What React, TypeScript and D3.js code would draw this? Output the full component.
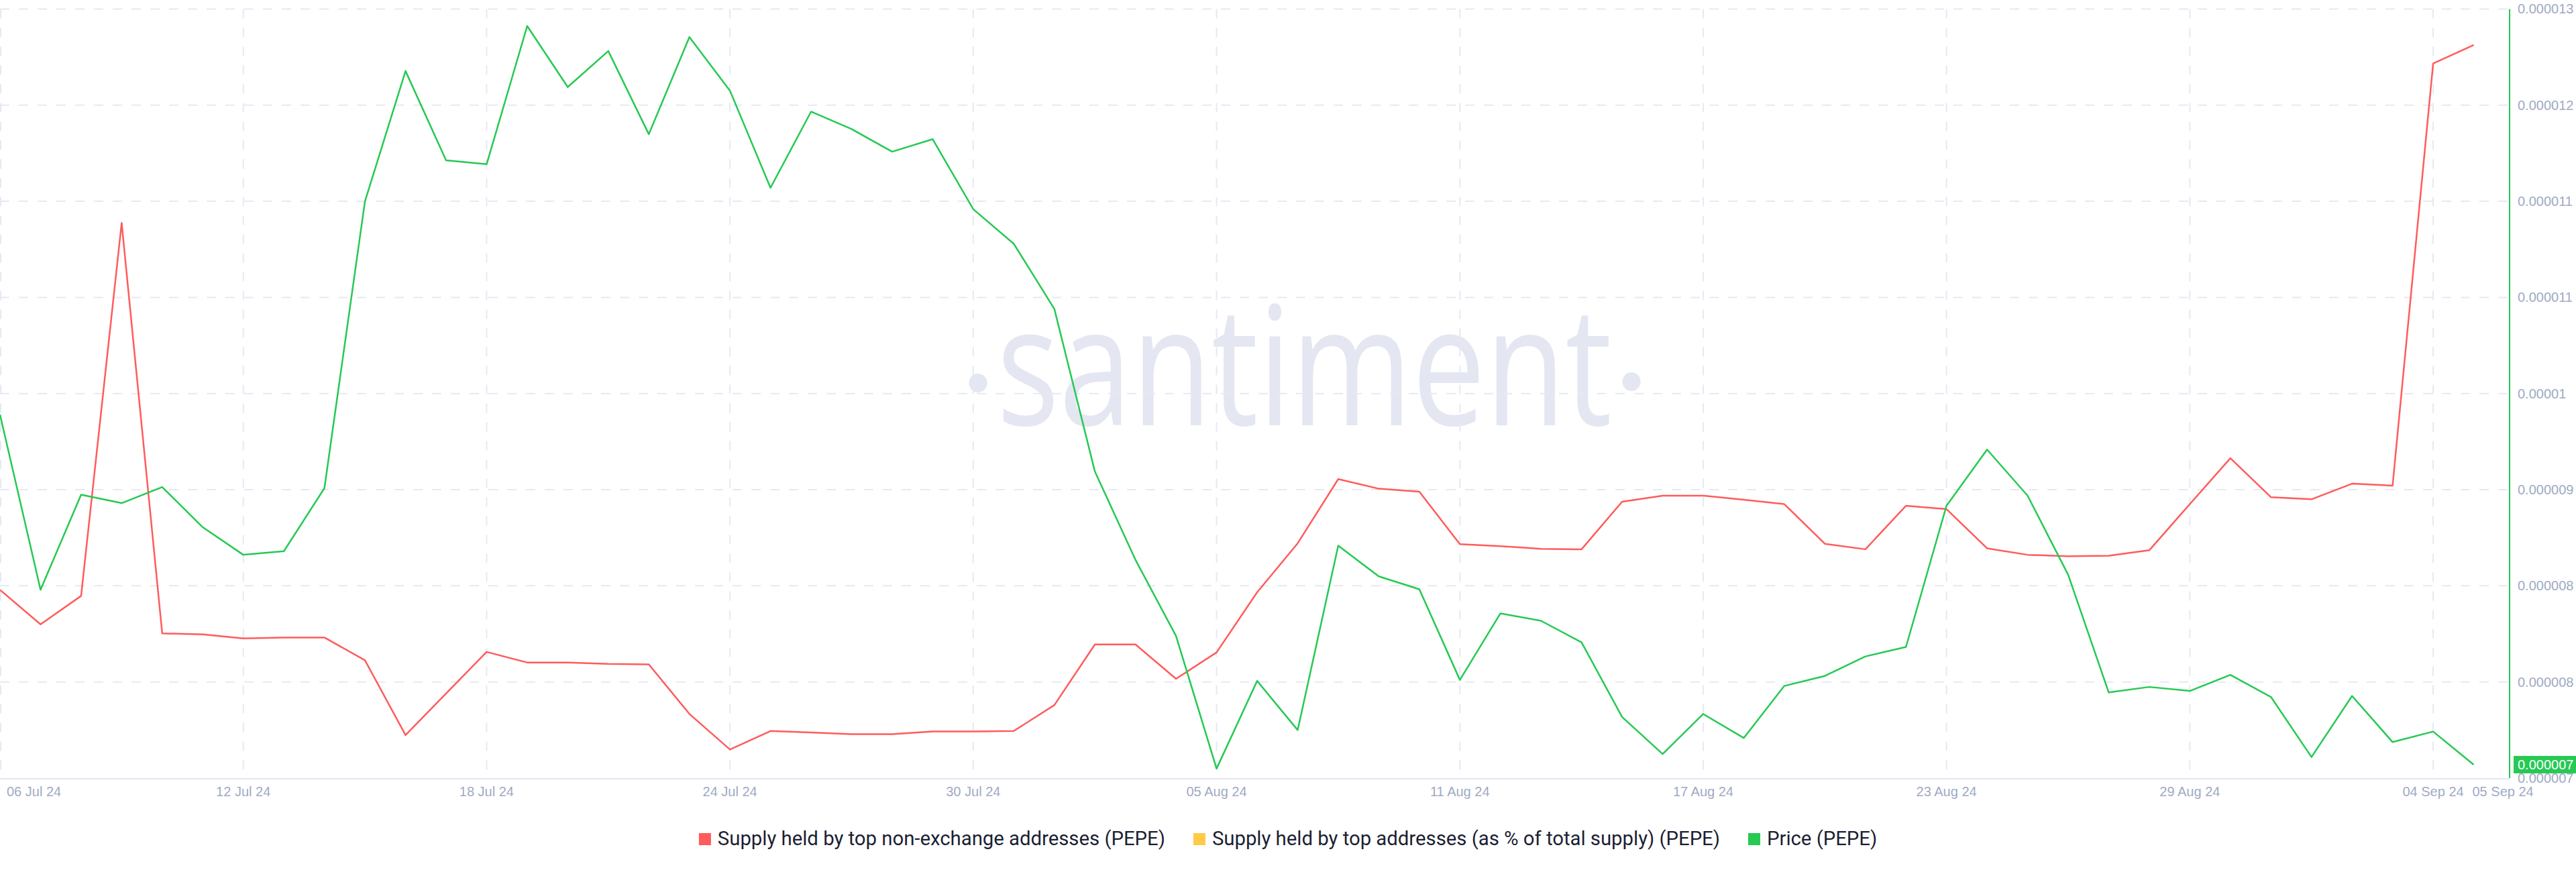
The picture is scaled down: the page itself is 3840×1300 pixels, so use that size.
import React, { useEffect, useRef } from "react";
import * as d3 from "d3";

const START_DATE = "2024-07-06";
const END_DATE = "2024-09-05";

// Price (PEPE), USD, one value per day 06 Jul 24 .. 05 Sep 24
const priceValues = [
  9.836e-6, 8.469e-6, 9.211e-6, 9.145e-6, 9.27e-6, 8.957e-6, 8.742e-6, 8.77e-6, 9.262e-6, 11.5e-6,
  12.516e-6, 11.82e-6, 11.789e-6, 12.867e-6, 12.391e-6, 12.672e-6, 12.023e-6, 12.781e-6, 12.363e-6, 11.605e-6,
  12.199e-6, 12.063e-6, 11.887e-6, 11.984e-6, 11.438e-6, 11.168e-6, 10.66e-6, 9.391e-6, 8.703e-6, 8.109e-6,
  7.074e-6, 7.758e-6, 7.375e-6, 8.813e-6, 8.574e-6, 8.473e-6, 7.766e-6, 8.285e-6, 8.227e-6, 8.059e-6,
  7.477e-6, 7.188e-6, 7.5e-6, 7.313e-6, 7.719e-6, 7.797e-6, 7.949e-6, 8.023e-6, 9.125e-6, 9.563e-6,
  9.203e-6, 8.586e-6, 7.668e-6, 7.711e-6, 7.68e-6, 7.805e-6, 7.633e-6, 7.164e-6, 7.641e-6, 7.281e-6,
  7.363e-6, 7.105e-6,
];

// Supply held by top non-exchange addresses (PEPE), trillions (hidden axis)
const supplyValues = [
  187.83, 186.4, 187.58, 203.1, 186.02, 185.98, 185.81, 185.85, 185.85, 184.9,
  181.79, 183.52, 185.25, 184.81, 184.81, 184.75, 184.73, 182.67, 181.19, 181.96,
  181.9, 181.83, 181.83, 181.94, 181.94, 181.96, 183.04, 185.56, 185.56, 184.13,
  185.23, 187.73, 189.77, 192.44, 192.04, 191.92, 189.73, 189.65, 189.54, 189.52,
  191.5, 191.75, 191.75, 191.58, 191.4, 189.75, 189.52, 191.33, 191.19, 189.56,
  189.29, 189.23, 189.25, 189.48, 191.4, 193.31, 191.69, 191.6, 192.25, 192.17,
  209.73, 210.5,
];

const xTickDates = [
  "2024-07-06", "2024-07-12", "2024-07-18", "2024-07-24", "2024-07-30", "2024-08-05",
  "2024-08-11", "2024-08-17", "2024-08-23", "2024-08-29", "2024-09-04", "2024-09-05",
];
const xTickLabels = [
  "06 Jul 24", "12 Jul 24", "18 Jul 24", "24 Jul 24", "30 Jul 24", "05 Aug 24",
  "11 Aug 24", "17 Aug 24", "23 Aug 24", "29 Aug 24", "04 Sep 24", "05 Sep 24",
];

const priceTickValues = [7e-6, 7.75e-6, 8.5e-6, 9.25e-6, 10e-6, 10.75e-6, 11.5e-6, 12.25e-6, 13e-6];
const priceTickLabels = [
  "0.000007", "0.000008", "0.000008", "0.000009", "0.00001", "0.000011", "0.000011", "0.000012", "0.000013",
];

const legendNames = [
  "Supply held by top non-exchange addresses (PEPE)",
  "Supply held by top addresses (as % of total supply) (PEPE)",
  "Price (PEPE)",
];
const legendColors = ["#ff5b5b", "#ffcb47", "#26c953"];

const W = 3840;
const H = 1300;
const FONT = "'Liberation Sans', Arial, sans-serif";
const LEGEND_FONT = "Roboto, 'Liberation Sans', Arial, sans-serif";

export default function App() {
  const ref = useRef<SVGSVGElement>(null);

  useEffect(() => {
    const svg = d3.select(ref.current);
    svg.selectAll("*").remove();

    const parse = d3.utcParse("%Y-%m-%d");
    const dates = d3.utcDay.range(parse(START_DATE)!, d3.utcDay.offset(parse(END_DATE)!, 1));

    const top = 13.4;
    const bottom = 1160;
    const axisX = 3741;

    const x = d3.scaleUtc().domain([dates[0], dates[dates.length - 1]]).range([0, 3687.5]);
    const yPrice = d3.scaleLinear().domain([7e-6, 13e-6]).range([bottom, top]);
    const ySupply = d3.scaleLinear().domain([180, 212]).range([bottom, top]);

    const gridColor = "#e6e9f3";

    // watermark
    const wm = svg.append("g").attr("fill", "#e4e7f1");
    wm.append("text")
      .attr("x", 1486)
      .attr("y", 634)
      .attr("font-family", "'Open Sans', sans-serif")
      .attr("font-size", 248)
      .attr("textLength", 917)
      .attr("lengthAdjust", "spacingAndGlyphs")
      .text("santiment");
    wm.append("ellipse").attr("cx", 1458).attr("cy", 571).attr("rx", 13.5).attr("ry", 14);
    wm.append("ellipse").attr("cx", 2432).attr("cy", 569).attr("rx", 13.5).attr("ry", 14);

    // horizontal grid
    svg.append("g")
      .selectAll("line")
      .data(priceTickValues.slice(1))
      .join("line")
      .attr("x1", 0)
      .attr("x2", axisX)
      .attr("y1", (d) => yPrice(d))
      .attr("y2", (d) => yPrice(d))
      .attr("stroke", gridColor)
      .attr("stroke-width", 2)
      .attr("stroke-dasharray", "14,14");

    // vertical grid
    svg.append("g")
      .selectAll("line")
      .data(xTickDates.slice(0, -1))
      .join("line")
      .attr("x1", (d) => Math.max(1, x(parse(d)!)))
      .attr("x2", (d) => Math.max(1, x(parse(d)!)))
      .attr("y1", top)
      .attr("y2", bottom)
      .attr("stroke", gridColor)
      .attr("stroke-width", 2)
      .attr("stroke-dasharray", "14,14");

    // bottom axis line
    svg.append("line")
      .attr("x1", 0)
      .attr("x2", axisX)
      .attr("y1", bottom + 1)
      .attr("y2", bottom + 1)
      .attr("stroke", "#e3e7f1")
      .attr("stroke-width", 2);

    // x tick labels
    const nT = xTickDates.length;
    svg.append("g")
      .selectAll("text")
      .data(xTickDates)
      .join("text")
      .attr("x", (d, i) => (i === 0 ? 10 : i === nT - 1 ? x(parse(d)!) - 2 : x(parse(d)!)))
      .attr("y", 1187)
      .attr("text-anchor", (d, i) => (i === 0 || i === nT - 1 ? "start" : "middle"))
      .attr("font-family", FONT)
      .attr("font-size", 20)
      .attr("fill", "#a0aac3")
      .text((d, i) => xTickLabels[i]);

    // lines
    const supplyLine = d3.line<number>()
      .x((d, i) => x(dates[i]))
      .y((d) => ySupply(d));
    const priceLine = d3.line<number>()
      .x((d, i) => x(dates[i]))
      .y((d) => yPrice(d));

    svg.append("path")
      .attr("d", supplyLine(supplyValues))
      .attr("fill", "none")
      .attr("stroke", legendColors[0])
      .attr("stroke-width", 2.5)
      .attr("stroke-linejoin", "round");
    svg.append("path")
      .attr("d", priceLine(priceValues))
      .attr("fill", "none")
      .attr("stroke", legendColors[2])
      .attr("stroke-width", 2.5)
      .attr("stroke-linejoin", "round");

    // right axis
    svg.append("line")
      .attr("x1", axisX)
      .attr("x2", axisX)
      .attr("y1", top)
      .attr("y2", bottom)
      .attr("stroke", legendColors[2])
      .attr("stroke-width", 2);

    svg.append("g")
      .selectAll("text")
      .data(priceTickValues)
      .join("text")
      .attr("x", 3753)
      .attr("y", (d) => yPrice(d))
      .attr("dy", "0.35em")
      .attr("font-family", FONT)
      .attr("font-size", 20)
      .attr("fill", "#a0aac3")
      .text((d, i) => priceTickLabels[i]);

    // last value badge
    const last = priceValues[priceValues.length - 1];
    const by = yPrice(last);
    svg.append("rect")
      .attr("x", 3747)
      .attr("y", by - 13)
      .attr("width", 93)
      .attr("height", 26)
      .attr("fill", legendColors[2]);
    svg.append("text")
      .attr("x", 3753)
      .attr("y", by)
      .attr("dy", "0.35em")
      .attr("font-family", FONT)
      .attr("font-size", 20)
      .attr("fill", "#ffffff")
      .text(last.toFixed(6));

    // legend
    const legend = svg.append("g");
    const sq = 18;
    const gapText = 10;
    const gapItem = 42;
    const items = legendNames.map((name, i) => {
      const g = legend.append("g");
      g.append("rect").attr("width", sq).attr("height", sq).attr("y", 1242).attr("fill", legendColors[i]);
      const t = g.append("text")
        .attr("x", sq + gapText)
        .attr("y", 1260)
        .attr("font-family", LEGEND_FONT)
        .attr("font-size", 29.3)
        .attr("fill", "#1c1f33")
        .text(name);
      const w = (t.node() as SVGTextElement).getComputedTextLength();
      return { g, w: sq + gapText + w };
    });
    const total = d3.sum(items, (d) => d.w) + gapItem * (items.length - 1);
    let cx = W / 2 - total / 2;
    items.forEach((it) => {
      it.g.attr("transform", `translate(${cx},0)`);
      cx += it.w + gapItem;
    });
  }, []);

  return (
    <svg
      ref={ref}
      width={W}
      height={H}
      style={{ position: "absolute", left: 0, top: 0, background: "#ffffff" }}
    />
  );
}
